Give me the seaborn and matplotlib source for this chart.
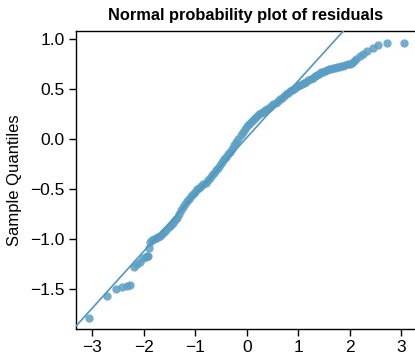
import matplotlib
matplotlib.use("Agg")
import matplotlib.pyplot as plt
import seaborn as sns
import pandas as pd

# Theoretical quantiles (x) and sample quantiles (y)
theoretical = [
    -3.07, -2.72, -2.55, -2.43, -2.335, -2.26, -2.20, -2.125, -2.08, -2.01,
    -1.95, -1.93, -1.915, -1.895, -1.87,
    -1.84, -1.80, -1.76, -1.72, -1.68, -1.64, -1.60, -1.56, -1.52, -1.48,
    -1.44, -1.40, -1.36, -1.32, -1.28, -1.24, -1.20, -1.16, -1.12, -1.08,
    -1.04, -1.00, -0.96, -0.92, -0.88, -0.84, -0.80, -0.76, -0.72, -0.68,
    -0.64, -0.60, -0.56, -0.52, -0.48, -0.44, -0.40, -0.36, -0.32, -0.28,
    -0.24, -0.20, -0.16, -0.12, -0.08, -0.04, 0.00, 0.04, 0.08, 0.12,
    0.16, 0.20, 0.24, 0.28, 0.32, 0.36, 0.40, 0.44, 0.48, 0.52,
    0.56, 0.60, 0.64, 0.68, 0.72, 0.76, 0.80, 0.84, 0.88, 0.92,
    0.96, 1.00, 1.04, 1.08, 1.12, 1.16, 1.20, 1.24, 1.28, 1.32,
    1.36, 1.40, 1.44, 1.48, 1.52, 1.56, 1.60, 1.64, 1.68, 1.72,
    1.76, 1.80, 1.84, 1.88, 1.92, 1.96, 2.00, 2.04, 2.08,
    2.13, 2.20, 2.26, 2.34, 2.45, 2.55, 2.72, 3.05,
]
sample = [
    -1.797, -1.576, -1.506, -1.483, -1.473, -1.467, -1.280, -1.255, -1.235, -1.190,
    -1.178, -1.172, -1.170, -1.095, -1.035,
    -1.010, -1.000, -0.990, -0.982, -0.972, -0.955, -0.935, -0.910, -0.885, -0.860,
    -0.837, -0.815, -0.790, -0.755, -0.708, -0.680, -0.648, -0.622, -0.598, -0.572,
    -0.548, -0.527, -0.505, -0.490, -0.472, -0.456, -0.440, -0.415, -0.388, -0.362,
    -0.337, -0.312, -0.287, -0.262, -0.232, -0.205, -0.178, -0.155, -0.130, -0.098,
    -0.062, -0.030, -0.002, 0.035, 0.072, 0.105, 0.130, 0.152, 0.172, 0.190,
    0.210, 0.232, 0.248, 0.262, 0.275, 0.287, 0.298, 0.315, 0.332, 0.348,
    0.363, 0.380, 0.398, 0.415, 0.432, 0.447, 0.462, 0.478, 0.492, 0.505,
    0.518, 0.532, 0.545, 0.553, 0.562, 0.573, 0.587, 0.600, 0.613, 0.627,
    0.641, 0.655, 0.667, 0.676, 0.684, 0.691, 0.697, 0.703, 0.708, 0.712,
    0.717, 0.722, 0.728, 0.733, 0.739, 0.747, 0.756, 0.765, 0.778,
    0.800, 0.830, 0.855, 0.885, 0.915, 0.940, 0.966, 0.966,
]
line_intercept = 0.013
line_slope = 0.569

x_ticks = [-3, -2, -1, 0, 1, 2, 3]
y_ticks = [-1.5, -1.0, -0.5, 0.0, 0.5, 1.0]

sns.set_style("white")
plt.rcParams["font.family"] = ["Liberation Sans", "DejaVu Sans"]
plt.rcParams["axes.unicode_minus"] = True
plt.rcParams["text.color"] = "black"
plt.rcParams["axes.labelcolor"] = "black"
plt.rcParams["xtick.color"] = "black"
plt.rcParams["ytick.color"] = "black"

fig = plt.figure(figsize=(4.15, 3.56), dpi=100)
ax = fig.add_axes([76 / 415, 1 - 329 / 356, 1 - 76 / 415, (329 - 31) / 356])

df = pd.DataFrame({"theoretical": theoretical, "sample": sample})
sns.scatterplot(data=df, x="theoretical", y="sample", ax=ax,
                color="#5a9fc3", alpha=0.85, s=36, linewidth=0, zorder=2)
ax.axline((0, line_intercept), slope=line_slope, color="#4f97be", lw=1.2, zorder=3)

ax.set_xlim(-3.318, 3.271)
ax.set_ylim(-1.904, 1.082)
ax.set_xticks(x_ticks)
ax.set_xticklabels([f"{v:d}".replace("-", "\u2212") for v in x_ticks])
ax.set_yticks(y_ticks)
ax.set_yticklabels([f"{v:.1f}".replace("-", "\u2212") for v in y_ticks])
ax.tick_params(axis="both", which="both", direction="out", length=5, width=1,
               color="black", labelcolor="black", labelsize=12.5, pad=3,
               bottom=True, left=True, top=False, right=False)
for side in ["left", "bottom", "top"]:
    ax.spines[side].set_visible(True)
    ax.spines[side].set_color("black")
    ax.spines[side].set_linewidth(1)
ax.spines["right"].set_visible(False)

ax.set_xlabel("")
ax.set_ylabel("Sample Quantiles", fontsize=12, color="black")
ax.yaxis.set_label_coords(-0.16, 0.5)
ax.set_title("Normal probability plot of residuals", fontsize=11.8,
             fontweight="bold", pad=8, color="black")

fig.savefig("out.png", dpi=100)
